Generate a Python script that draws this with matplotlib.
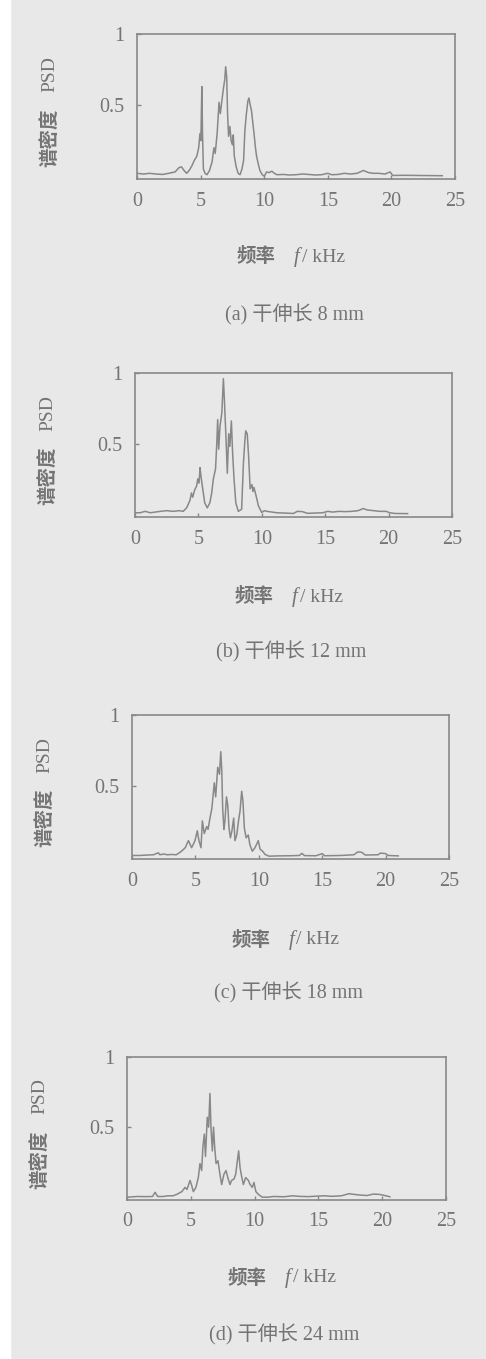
import matplotlib.pyplot as plt
from matplotlib.patches import Rectangle

# panel (a) 8 mm
freq_a = [0.0, 0.5, 1.0, 1.5, 2.0, 2.5, 3.0, 3.3, 3.5, 3.7, 3.9, 4.1, 4.3, 4.5, 4.7, 4.85, 4.95, 5.02,
          5.1, 5.15, 5.22, 5.35, 5.5, 5.7, 5.9, 6.05, 6.15, 6.3, 6.45, 6.55, 6.7, 6.8, 6.9, 6.97, 7.05,
          7.12, 7.2, 7.3, 7.4, 7.5, 7.57, 7.65, 7.8, 7.95, 8.1, 8.25, 8.38, 8.48, 8.6, 8.72, 8.8, 8.88,
          9.0, 9.1, 9.2, 9.3, 9.4, 9.55, 9.66, 9.85, 10.0, 10.2, 10.4, 10.6, 10.8, 11.0, 11.5, 12.0,
          12.5, 13.0, 13.5, 14.0, 14.5, 15.0, 15.3, 15.8, 16.3, 16.8, 17.3, 17.8, 18.2, 18.6, 19.0,
          19.5, 19.9, 20.1, 21.0, 22.0, 23.0, 24.0]
psd_a = [0.02, 0.015, 0.02, 0.015, 0.012, 0.02, 0.03, 0.06, 0.065, 0.04, 0.02, 0.04, 0.07, 0.11, 0.14,
         0.2, 0.3, 0.25, 0.63, 0.3, 0.05, 0.02, 0.01, 0.04, 0.1, 0.2, 0.16, 0.3, 0.52, 0.44, 0.55, 0.62,
         0.68, 0.77, 0.7, 0.44, 0.28, 0.35, 0.25, 0.22, 0.29, 0.14, 0.065, 0.02, 0.01, 0.05, 0.11, 0.32,
         0.44, 0.53, 0.55, 0.51, 0.46, 0.38, 0.3, 0.21, 0.14, 0.08, 0.04, 0.01, 0.0, 0.03, 0.025, 0.035,
         0.02, 0.01, 0.012, 0.008, 0.01, 0.015, 0.012, 0.008, 0.01, 0.02, 0.01, 0.012, 0.02, 0.015,
         0.02, 0.04, 0.025, 0.02, 0.02, 0.015, 0.03, 0.005, 0.006, 0.005, 0.004, 0.003]

# panel (b) 12 mm
freq_b = [0.0, 0.4, 0.8, 1.2, 1.6, 2.0, 2.5, 3.0, 3.5, 3.8, 4.07, 4.2, 4.34, 4.45, 4.55, 4.7, 4.86, 4.95,
          5.05, 5.13, 5.2, 5.34, 5.5, 5.7, 5.9, 6.05, 6.18, 6.35, 6.45, 6.52, 6.6, 6.7, 6.85, 6.97, 7.05,
          7.18, 7.28, 7.39, 7.48, 7.6, 7.7, 7.81, 7.95, 8.15, 8.41, 8.55, 8.65, 8.73, 8.85, 8.96, 9.08,
          9.22, 9.3, 9.38, 9.55, 9.73, 9.99, 10.2, 10.4, 10.8, 11.2, 11.8, 12.5, 12.8, 13.2, 13.6, 14.2,
          14.8, 15.2, 15.6, 16.1, 16.6, 17.1, 17.6, 18.0, 18.3, 18.8, 19.3, 19.8, 20.1, 20.5, 21.5]
psd_b = [0.01, 0.01, 0.02, 0.01, 0.015, 0.02, 0.025, 0.02, 0.025, 0.02, 0.045, 0.07, 0.1, 0.15, 0.12,
         0.17, 0.2, 0.25, 0.22, 0.33, 0.27, 0.18, 0.08, 0.045, 0.08, 0.15, 0.25, 0.32, 0.5, 0.67, 0.46,
         0.62, 0.72, 0.96, 0.81, 0.53, 0.29, 0.57, 0.48, 0.66, 0.43, 0.25, 0.08, 0.02, 0.035, 0.36, 0.5,
         0.59, 0.57, 0.41, 0.18, 0.21, 0.16, 0.19, 0.13, 0.06, 0.012, 0.025, 0.02, 0.015, 0.01, 0.008,
         0.005, 0.02, 0.018, 0.006, 0.008, 0.01, 0.02, 0.015, 0.02, 0.018, 0.02, 0.025, 0.04, 0.03,
         0.025, 0.02, 0.02, 0.01, 0.005, 0.004]

# panel (c) 18 mm
freq_c = [0.0, 0.6, 1.2, 1.7, 2.08, 2.2, 2.5, 2.8, 3.1, 3.5, 3.9, 4.2, 4.45, 4.7, 4.97, 5.15, 5.28, 5.44,
          5.55, 5.7, 5.89, 6.0, 6.15, 6.3, 6.49, 6.6, 6.76, 6.9, 7.0, 7.08, 7.15, 7.25, 7.33, 7.45, 7.55,
          7.65, 7.76, 7.88, 8.02, 8.12, 8.26, 8.4, 8.52, 8.65, 8.75, 8.86, 9.0, 9.17, 9.3, 9.49, 9.7,
          9.96, 10.1, 10.3, 10.5, 10.8, 11.5, 12.5, 13.2, 13.4, 13.6, 14.5, 15.0, 15.2, 16.5, 17.5, 17.8,
          18.1, 18.4, 19.4, 19.6, 20.0, 20.2, 21.0]
psd_c = [0.005, 0.005, 0.008, 0.01, 0.024, 0.01, 0.015, 0.01, 0.012, 0.01, 0.035, 0.06, 0.11, 0.06,
         0.11, 0.18, 0.11, 0.06, 0.25, 0.16, 0.21, 0.19, 0.27, 0.34, 0.52, 0.42, 0.63, 0.58, 0.74, 0.61,
         0.34, 0.19, 0.25, 0.42, 0.36, 0.2, 0.13, 0.18, 0.27, 0.11, 0.15, 0.25, 0.32, 0.46, 0.39, 0.2,
         0.13, 0.15, 0.08, 0.035, 0.06, 0.11, 0.05, 0.035, 0.012, 0.0, 0.002, 0.003, 0.005, 0.02, 0.004,
         0.003, 0.018, 0.003, 0.005, 0.01, 0.03, 0.028, 0.008, 0.01, 0.022, 0.018, 0.005, 0.002]

# panel (d) 24 mm
freq_d = [0.0, 0.8, 1.5, 2.0, 2.2, 2.4, 2.85, 3.2, 3.6, 3.9, 4.3, 4.55, 4.7, 4.94, 5.05, 5.2, 5.4, 5.59,
          5.72, 5.85, 5.95, 6.06, 6.15, 6.29, 6.4, 6.5, 6.58, 6.69, 6.78, 6.87, 6.98, 7.13, 7.28, 7.42,
          7.6, 7.76, 7.9, 8.07, 8.2, 8.39, 8.52, 8.65, 8.75, 8.86, 9.0, 9.12, 9.3, 9.51, 9.65, 9.82, 9.95,
          10.1, 10.3, 10.6, 11.0, 11.5, 12.3, 13.0, 13.5, 14.2, 15.0, 15.5, 16.0, 16.8, 17.4, 17.8, 18.3,
          18.8, 19.3, 19.8, 20.3, 20.6]
psd_d = [0.0, 0.005, 0.004, 0.005, 0.035, 0.005, 0.005, 0.01, 0.01, 0.02, 0.04, 0.07, 0.055, 0.12, 0.09,
         0.04, 0.07, 0.14, 0.24, 0.19, 0.36, 0.45, 0.29, 0.57, 0.5, 0.74, 0.5, 0.33, 0.5, 0.36, 0.24,
         0.26, 0.165, 0.09, 0.165, 0.19, 0.14, 0.09, 0.12, 0.13, 0.165, 0.26, 0.33, 0.21, 0.14, 0.09,
         0.14, 0.12, 0.09, 0.07, 0.105, 0.04, 0.02, 0.0, 0.0, 0.005, 0.003, 0.01, 0.006, 0.004, 0.008,
         0.01, 0.006, 0.01, 0.025, 0.02, 0.015, 0.012, 0.022, 0.02, 0.01, 0.003]

captions = ['(a) 干伸长 8 mm', '(b) 干伸长 12 mm', '(c) 干伸长 18 mm', '(d) 干伸长 24 mm']
series = [(freq_a, psd_a), (freq_b, psd_b), (freq_c, psd_c), (freq_d, psd_d)]

# axes boxes in pixels: left, right, top, bottom ; label rows y (pixels from top)
boxes = [(137, 455, 34, 179), (135, 452, 373, 517), (132, 449, 715, 859), (127, 446, 1057, 1200)]
xlabel_y = [257, 597, 940, 1278]
caption_y = [315, 652, 993, 1335]

W, H = 486, 1359
bg = '#e8e8e8'
ink = '#747474'
line_col = '#888888'
serif = ['Liberation Serif', 'Noto Sans CJK SC']
cjk = ['Noto Sans CJK SC', 'Liberation Serif']

fig = plt.figure(figsize=(W / 100, H / 100), dpi=100, facecolor=bg)
fig.patches.append(Rectangle((0, 0), 10 / W, 1, transform=fig.transFigure, color='white', zorder=-1))


def fx(x):
    return x / W


def fy(y):
    return 1 - y / H


for i, (f, p) in enumerate(series):
    l, r, t, b = boxes[i]
    ax = fig.add_axes([fx(l), fy(b), (r - l) / W, (b - t) / H])
    ax.set_facecolor(bg)
    ax.plot(f, p, color=line_col, lw=1.1)
    ax.set_xlim(0, 25)
    ax.set_ylim(-0.02, 1.0)
    ax.set_xticks([0, 5, 10, 15, 20, 25])
    ax.set_yticks([0.5, 1])
    ax.set_yticklabels(['0.5', '1'])
    ax.tick_params(direction='in', length=3, width=1, color=line_col, labelcolor=ink,
                   labelsize=14.5, pad=9)
    for lab in ax.get_xticklabels() + ax.get_yticklabels():
        lab.set_family(serif)
    for s in ax.spines.values():
        s.set_color(line_col)
        s.set_linewidth(1.2)

    cx = (l + r) / 2
    cy = (t + b) / 2
    # y label: 谱密度 (bold CJK) and PSD (serif)
    fig.text(fx(l - 87), fy(cy + 31), '谱密度', rotation=90, ha='center', va='center',
             fontsize=14, color=ink, family=cjk, fontweight='bold')
    fig.text(fx(l - 87), fy(cy - 32), 'PSD', rotation=90, ha='center', va='center',
             fontsize=14, color=ink, family='Liberation Serif')
    # x label: 频率  f / kHz
    fig.text(fx(cx - 20), fy(xlabel_y[i]), '频率', ha='right', va='center', fontsize=14,
             color=ink, family=cjk, fontweight='bold')
    fig.text(fx(cx + 1), fy(xlabel_y[i]), 'f', ha='center', va='center', fontsize=15,
             color=ink, family='Liberation Serif', style='italic')
    fig.text(fx(cx + 6), fy(xlabel_y[i]), '/ kHz', ha='left', va='center', fontsize=14,
             color=ink, family='Liberation Serif')
    # caption
    fig.text(fx(cx - 2), fy(caption_y[i]), captions[i], ha='center', va='center', fontsize=14.5,
             color=ink, family=serif)

plt.savefig('out.png', dpi=100, facecolor=bg)
